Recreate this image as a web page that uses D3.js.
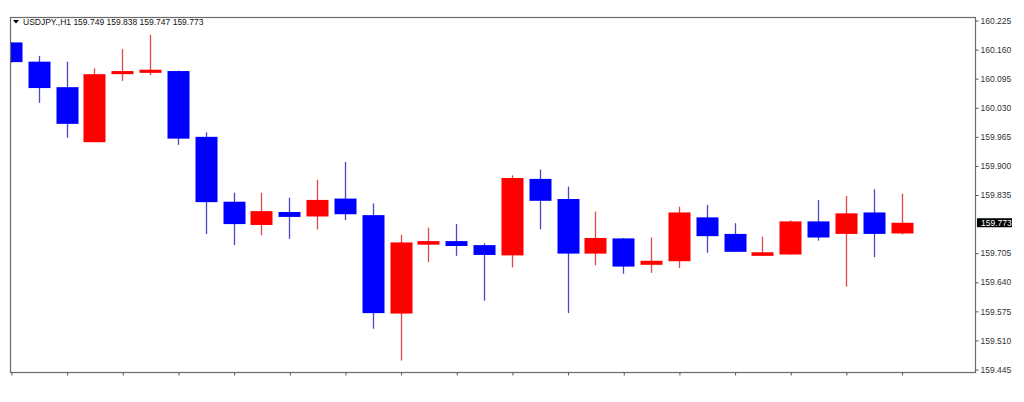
<!DOCTYPE html>
<html><head><meta charset="utf-8">
<script src="https://cdn.jsdelivr.net/npm/d3@7"></script>
<style>
html,body{margin:0;padding:0;background:#fff;}
svg{display:block;}
text{font-family:"Liberation Sans",Arial,sans-serif;}
</style></head>
<body><svg id="chart" width="1024" height="402"></svg>
<script>
const symbolTitle = "USDJPY.,H1";
const lastQuote = ["159.749","159.838","159.747","159.773"];
const opens  = [160.176,160.133,160.076,159.953,160.105,160.108,160.112,159.965,159.820,159.768,159.797,159.787,159.827,159.790,159.570,159.724,159.732,159.723,159.700,159.871,159.826,159.704,159.738,159.679,159.687,159.785,159.748,159.699,159.702,159.776,159.748,159.796,159.749];
const highs  = [160.177,160.146,160.133,160.118,160.161,160.193,160.113,159.975,159.840,159.840,159.829,159.869,159.909,159.816,159.746,159.762,159.770,159.727,159.879,159.892,159.854,159.798,159.739,159.740,159.809,159.813,159.772,159.742,159.778,159.824,159.833,159.848,159.838];
const lows   = [160.131,160.041,159.963,159.953,160.090,160.103,159.947,159.748,159.723,159.745,159.737,159.758,159.779,159.536,159.465,159.685,159.699,159.599,159.673,159.758,159.571,159.678,159.659,159.661,159.672,159.706,159.708,159.699,159.702,159.733,159.630,159.696,159.747];
const closes = [160.132,160.074,159.994,160.105,160.112,160.115,159.961,159.819,159.770,159.799,159.786,159.824,159.792,159.571,159.729,159.732,159.721,159.701,159.873,159.822,159.704,159.739,159.675,159.688,159.796,159.743,159.708,159.707,159.776,159.740,159.794,159.748,159.773];
const priceTicks = [160.225,160.160,160.095,160.030,159.965,159.900,159.835,159.705,159.640,159.575,159.510,159.445];
const currentPrice = 159.773;

const svg = d3.select("#chart");
const L = 10, T = 17, R = 975, B = 372;
const idx = d3.range(opens.length);

const x = d3.scaleLinear().domain([0, opens.length - 1]).range([11, 11 + 27.83 * (opens.length - 1)]);
const y = d3.scaleLinear().domain([159.445, 160.225]).range([369.5, 20.5]);
const bodyW = 22;

svg.append("defs").append("clipPath").attr("id","plot")
  .append("rect").attr("x", L).attr("y", T).attr("width", R - L).attr("height", B - T);

const g = svg.append("g").attr("clip-path","url(#plot)");

const bull = "#ff0000", bear = "#0000ff";
const bullWick = "#e04848", bearWick = "#4848c8";

// wicks
g.selectAll("line.wick").data(idx).join("line")
  .attr("class","wick")
  .attr("x1", i => Math.round(x(i)) + 0.5).attr("x2", i => Math.round(x(i)) + 0.5)
  .attr("y1", i => y(highs[i])).attr("y2", i => y(lows[i]))
  .attr("stroke", i => closes[i] >= opens[i] ? bullWick : bearWick)
  .attr("stroke-width", 1.3);

// bodies
g.selectAll("rect.body").data(idx).join("rect")
  .attr("class","body")
  .attr("x", i => Math.round(x(i)) - bodyW / 2 + 0.5)
  .attr("width", bodyW)
  .attr("y", i => y(Math.max(opens[i], closes[i])))
  .attr("height", i => Math.max(2.5, Math.abs(y(opens[i]) - y(closes[i]))))
  .attr("fill", i => closes[i] >= opens[i] ? bull : bear);

// frame
svg.append("rect").attr("x", L + 0.5).attr("y", T + 0.5).attr("width", R - L).attr("height", B - T)
  .attr("fill","none").attr("stroke","#6b6b6b").attr("stroke-width",1.2);

// right axis
const yAxis = d3.axisRight(y).tickValues(priceTicks).tickSize(3).tickPadding(2).tickFormat(d3.format(".3f"));
const ya = svg.append("g").attr("transform", `translate(${R + 0.5},0)`).call(yAxis);
ya.select(".domain").remove();
ya.selectAll(".tick line").attr("stroke","#555");
ya.selectAll(".tick text").attr("fill","#333").style("font-size","8.5px").style("font-family","'Liberation Sans',Arial,sans-serif");

// bottom axis ticks (every 2 bars, no labels)
const xAxis = d3.axisBottom(x).tickValues(idx.filter(i => i % 2 === 0)).tickSize(3).tickFormat("");
const xa = svg.append("g").attr("transform", `translate(0.5,${B + 0.5})`).call(xAxis);
xa.select(".domain").remove();
xa.selectAll(".tick line").attr("stroke","#555");

// current price label
const cp = svg.append("g").attr("transform", `translate(${R + 2},${y(currentPrice)})`);
cp.append("rect").attr("x", 0).attr("y", -4.5).attr("width", 35).attr("height", 9).attr("fill","#000");
cp.append("text").attr("x", 4).attr("y", 3.2).attr("fill","#fff").style("font-size","8.5px").text(d3.format(".3f")(currentPrice));

// header
const hdr = svg.append("g").attr("transform","translate(13,25)");
hdr.append("path").attr("d","M0,-5 L6,-5 L3,-1.5 Z").attr("fill","#000").attr("transform","translate(0,0)");
hdr.append("text").attr("x", 10).attr("y", 0).attr("fill","#111").style("font-size","8.5px")
  .text(symbolTitle + "  " + lastQuote.join(" "));
</script>
</body></html>
